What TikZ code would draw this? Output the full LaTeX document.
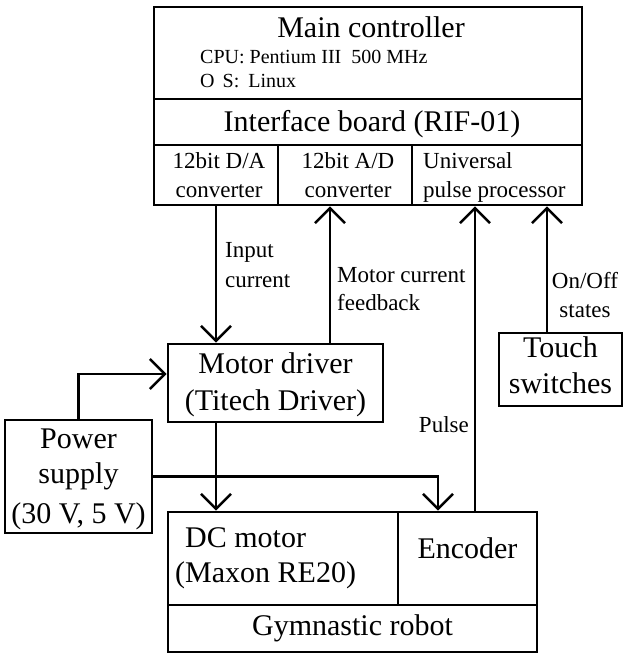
\documentclass[tikz,border=0pt]{standalone}
\usepackage{fontspec}
\setmainfont{Liberation Serif}
\usetikzlibrary{arrows.meta}
\begin{document}
\begin{tikzpicture}[x=1pt,y=-1pt,
  box/.style={draw,line width=2.6pt,rectangle,inner sep=0pt},
  arr/.style={line width=2.6pt,-{Straight Barb[length=15pt,width=30pt]}},
  big/.style={inner sep=0pt,font=\fontsize{30}{36}\selectfont},
  mid/.style={inner sep=0pt,font=\fontsize{23}{28}\selectfont},
  sml/.style={inner sep=0pt,font=\fontsize{20}{24}\selectfont}]
\useasboundingbox (0,0) rectangle (624,654);
% boxes
\node[box,minimum width=428pt,minimum height=92pt] (mc) at (368,53) {};
\node[box,minimum width=428pt,minimum height=46pt] (ib) at (368,122) {};
\node[box,minimum width=124pt,minimum height=60pt] (da) at (216,175) {};
\node[box,minimum width=134pt,minimum height=60pt] (ad) at (345,175) {};
\node[box,minimum width=170pt,minimum height=60pt] (up) at (497,175) {};
\node[box,minimum width=215pt,minimum height=78pt] (md) at (275.5,383) {};
\node[box,minimum width=147pt,minimum height=113pt] (ps) at (78.5,476.5) {};
\node[box,minimum width=123pt,minimum height=73pt] (ts) at (560.5,369.5) {};
\node[box,minimum width=230pt,minimum height=93pt] (dc) at (283,558.5) {};
\node[box,minimum width=139pt,minimum height=93pt] (enc) at (467.5,558.5) {};
\node[box,minimum width=369pt,minimum height=47pt] (gr) at (352.5,628.5) {};
% texts
\node[big,anchor=base] (t1) at (371,37) {Main controller};
\node[sml,anchor=base west] (t2) at (200,63) {CPU: Pentium III\ \ 500 MHz};
\node[sml,anchor=base west] (t3) at (200,87) {O\hspace{8pt}S:\hspace{9pt}Linux};
\node[big,anchor=base] (t4) at (372,131) {Interface board (RIF-01)};
\node[mid,anchor=base] (t5) at (219,168) {12bit D/A};
\node[mid,anchor=base] (t6) at (219,197) {converter};
\node[mid,anchor=base] (t7) at (348,168) {12bit A/D};
\node[mid,anchor=base] (t8) at (348,197) {converter};
\node[mid,anchor=base west] (t9) at (423,168) {Universal};
\node[mid,anchor=base west] (t10) at (423,197) {pulse processor};
\node[mid,anchor=base west] (l1) at (225,257) {Input};
\node[mid,anchor=base west] (l2) at (225,287) {current};
\node[mid,anchor=base west] (l3) at (337,282) {Motor current};
\node[mid,anchor=base west] (l4) at (337,310) {feedback};
\node[mid,anchor=base] (l5) at (585,288) {On/Off};
\node[mid,anchor=base] (l6) at (585,317) {states};
\node[mid,anchor=base east] (l7) at (469,432) {Pulse};
\node[big,anchor=base] (t11) at (275.5,373) {Motor driver};
\node[big,anchor=base] (t12) at (275.5,410) {(Titech Driver)};
\node[big,anchor=base] (t13) at (78.5,448) {Power};
\node[big,anchor=base] (t14) at (78.5,483) {supply};
\node[big,anchor=base] (t15) at (78.5,523) {(30 V, 5 V)};
\node[big,anchor=base] (t16) at (560.5,357) {Touch};
\node[big,anchor=base] (t17) at (560.5,393) {switches};
\node[big,anchor=base west] (t18) at (185,547) {DC motor};
\node[big,anchor=base west] (t19) at (175,582) {(Maxon RE20)};
\node[big,anchor=base] (t20) at (467.5,558) {Encoder};
\node[big,anchor=base] (t21) at (352.5,635) {Gymnastic robot};
% connectors
\draw[arr] (da.south) -- (da.south |- md.north);
\draw[arr] ([xshift=54.5pt]md.north) -- ([xshift=54.5pt]md.north |- ad.south);
\draw[arr] ([xshift=7.5pt]enc.north) -- ([xshift=7.5pt]enc.north |- up.south);
\draw[arr] ([xshift=-13.5pt]ts.north) -- ([xshift=-13.5pt]ts.north |- up.south);
\draw[arr] (da.south |- md.south) -- (da.south |- dc.north);
\draw[arr] (ps.north) |- ([yshift=9pt]md.west);
\draw[arr] (ps.east) -| ([xshift=-29.5pt]enc.north);
\end{tikzpicture}
\end{document}
